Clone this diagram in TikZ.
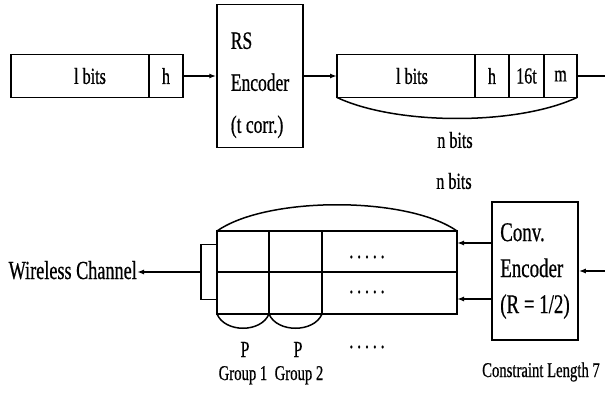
\documentclass[tikz,border=0pt]{standalone}
\usepackage{fontspec}
\setmainfont{Liberation Serif}[FakeStretch=0.7, FakeBold=0.6]
\usepackage{tikz}
\usetikzlibrary{positioning}
\usetikzlibrary{arrows.meta}

\newcommand{\dotrow}{.\hspace{3.8pt}.\hspace{3.8pt}.\hspace{3.8pt}.\hspace{3.8pt}.}

\begin{document}
\begin{tikzpicture}[x=1pt, y=-1pt,
    cell/.style={draw, line width=1.5pt, inner sep=0pt, outer sep=0pt, minimum height=43pt, font=\fontsize{23}{27}\selectfont},
    box/.style={draw, line width=1.5pt, inner sep=0pt, align=left, minimum width=86pt},
    label/.style={inner sep=0pt, font=\fontsize{23}{27}\selectfont},
    arrow/.style={-{Latex[length=7pt,width=5pt]}, line width=1.5pt},
    brace/.style={line width=1.5pt}
]
    \useasboundingbox (0,0) rectangle (605,393);

    % Top level: packet into the RS encoder
    \node[cell, minimum width=138pt] (bits1) at (80,76) {\hspace*{20pt}l bits};
    \node[cell, minimum width=34pt, right=0pt of bits1] (hdr1) {h};
    \node[box, minimum height=143pt, font=\fontsize{25}{42}\selectfont] (rs) at (260,76) {\rule{0pt}{35pt}RS\\Encoder\\(t corr.)};

    % Coded packet
    \node[cell, minimum width=138pt] (bits2) at (406,76) {\hspace*{12pt}l bits};
    \node[cell, minimum width=34pt, right=0pt of bits2] (hdr2) {h};
    \node[cell, minimum width=35pt, right=0pt of hdr2] (par2) {16t};
    \node[cell, minimum width=33pt, right=0pt of par2] (pad2) {m};
    \coordinate (out1) at (605,76);

    \draw[arrow] (hdr1) -- (rs);
    \draw[arrow] (rs) -- (bits2);
    \draw[brace] (pad2) -- (out1);
    \draw[brace] (bits2.south west) .. controls +(60,28) and +(-60,28) .. (pad2.south east);
    \node[label] (nbits1) at (455,140) {n bits};

    % Bottom level: convolutional encoder
    \node[box, minimum height=138pt, font=\fontsize{27}{36}\selectfont] (conv) at (535,271) {Conv.\\Encoder\\(R = 1/2)};
    \coordinate (in2) at (605,271);
    \draw[arrow] (in2) -- (conv);
    \node[label, anchor=base, font=\fontsize{21}{24}\selectfont] (len) at (541,377) {Constraint Length 7};

    % Interleaving buffer
    \node[cell, minimum width=52pt, minimum height=41pt] (b11) at (243,251.5) {};
    \node[cell, minimum width=53pt, minimum height=41pt, right=0pt of b11] (b12) {};
    \node[cell, minimum width=135pt, minimum height=41pt, right=0pt of b12] (b13) {};
    \node[cell, minimum width=52pt, minimum height=42pt, below=0pt of b11] (b21) {};
    \node[cell, minimum width=53pt, minimum height=42pt, right=0pt of b21] (b22) {};
    \node[cell, minimum width=135pt, minimum height=42pt, right=0pt of b22] (b23) {};
    \node[label] (dots1) at (367,257) {\dotrow};
    \node[label] (dots2) at (367,292) {\dotrow};
    \node[label] (dots3) at (367,347) {\dotrow};

    \coordinate (up) at ([yshift=28pt]conv.west);
    \coordinate (dn) at ([yshift=-28pt]conv.west);
    \draw[arrow] (up) -- (up -| b13.east);
    \draw[arrow] (dn) -- (dn -| b23.east);

    \draw[brace] (b11.north west) .. controls +(50,-35) and +(-50,-35) .. (b13.north east);
    \node[label] (nbits2) at (454,181) {n bits};

    % Groups
    \draw[brace] (b21.south west) .. controls +(8,19) and +(-8,19) .. (b21.south east);
    \draw[brace] (b22.south west) .. controls +(8,19) and +(-8,19) .. (b22.south east);
    \node[label, anchor=base] (p1) at (245,357) {P};
    \node[label, anchor=base] (p2) at (298,357) {P};
    \node[label, anchor=base, font=\fontsize{21}{24}\selectfont] (grp1) at (243,380) {Group 1};
    \node[label, anchor=base, font=\fontsize{21}{24}\selectfont] (grp2) at (299,380) {Group 2};

    % Output to the channel
    \node[draw, line width=1.5pt, inner sep=0pt, outer sep=0pt, minimum width=16pt, minimum height=55pt, anchor=east] (tail) at (b21.north west) {};
    \node[label, anchor=base east, font=\fontsize{26}{30}\selectfont] (chan) at (137,279) {Wireless Channel};
    \draw[arrow] (tail) -- (tail -| chan.east);
\end{tikzpicture}
\end{document}
